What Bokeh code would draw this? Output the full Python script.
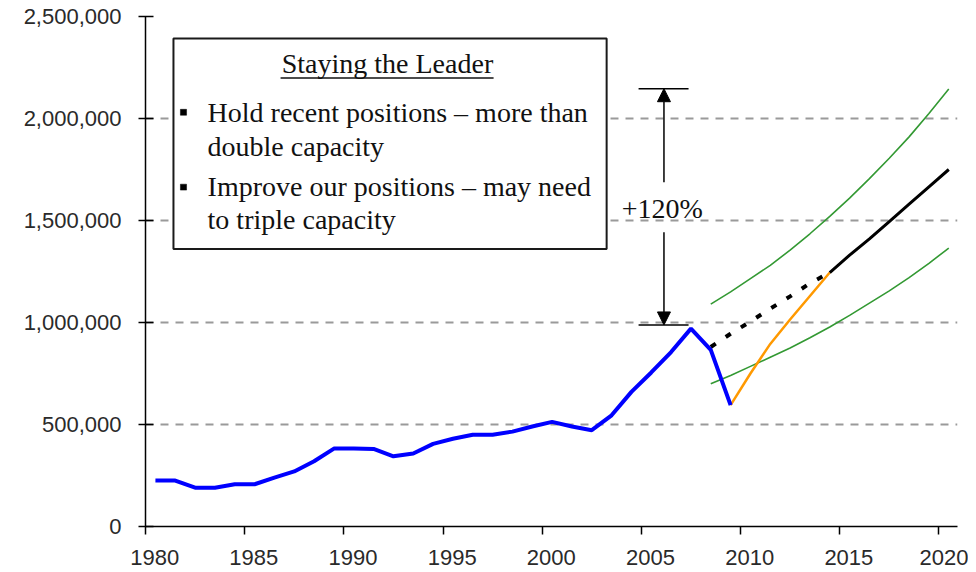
from bokeh.plotting import figure
from bokeh.models import (Range1d, NumeralTickFormatter, FixedTicker, BoxAnnotation,
                          Label, Arrow, NormalHead)
from bokeh.embed import file_html
from bokeh.resources import INLINE

# ---------------- data ----------------
mid_year = 0.5  # annual values are plotted at mid-year

hist_years = list(range(1980, 2010))
hist_values = [226000, 225000, 190000, 190000, 207000, 207000, 240000, 270000, 320000, 382000,
               382000, 380000, 344000, 358000, 405000, 430000, 450000, 450000, 465000, 490000,
               513000, 490000, 472000, 545000, 660000, 755000, 855000, 970000, 866000, 595000]

recovery_years = list(range(2009, 2015))
recovery_values = [595000, 750000, 895000, 1015000, 1130000, 1245000]

trend_years = list(range(2014, 2021))
trend_values = [1245000, 1330000, 1410000, 1495000, 1580000, 1665000, 1750000]

hold_years = list(range(2008, 2015))
hold_values = [880000, 945000, 1005000, 1068000, 1128000, 1192000, 1245000]

band_years = list(range(2008, 2021))
band_upper = [1090000, 1150000, 1215000, 1280000, 1355000, 1435000, 1520000, 1610000,
              1705000, 1805000, 1910000, 2025000, 2145000]
band_lower = [700000, 740000, 785000, 830000, 875000, 925000, 978000, 1035000,
              1095000, 1155000, 1220000, 1290000, 1365000]

x_ticks = [1980, 1985, 1990, 1995, 2000, 2005, 2010, 2015, 2020]
y_ticks = [0, 500000, 1000000, 1500000, 2000000, 2500000]

gap_low = 988000
gap_high = 2146000
gap_label = "+120%"

box_title = "Staying the Leader"
box_lines = ["Hold recent positions \u2013 more than", "double capacity",
             "Improve our positions \u2013 may need", "to triple capacity"]

# ---------------- figure ----------------
p = figure(width=968, height=572, output_backend="svg", toolbar_location=None,
           x_range=Range1d(1980, 2020.94), y_range=Range1d(0, 2500000),
           min_border_left=145, min_border_right=11, min_border_top=16, min_border_bottom=45)
p.outline_line_color = None
p.background_fill_color = "white"

p.xgrid.grid_line_color = None
p.ygrid.grid_line_color = "#9a9a9a"
p.ygrid.grid_line_width = 2
p.ygrid.grid_line_dash = "8 7"

for ax in (p.xaxis[0], p.yaxis[0]):
    ax.axis_line_color = "black"
    ax.axis_line_width = 1.5
    ax.major_tick_line_color = "black"
    ax.major_tick_line_width = 1.5
    ax.minor_tick_line_color = None
    ax.major_label_text_font = "Liberation Sans"
    ax.major_label_text_font_size = "22px"
    ax.major_label_text_color = "#2a2a2a"

p.xaxis[0].ticker = FixedTicker(ticks=x_ticks)
p.xaxis[0].major_label_overrides = {t: "\u00a0\u00a0\u00a0" + str(t) for t in x_ticks}
p.xaxis[0].major_tick_in = 0
p.xaxis[0].major_tick_out = 8
p.xaxis[0].major_label_standoff = 10

p.yaxis[0].ticker = FixedTicker(ticks=y_ticks)
p.yaxis[0].formatter = NumeralTickFormatter(format="0,0")
p.yaxis[0].major_tick_in = 8
p.yaxis[0].major_tick_out = 7
p.yaxis[0].major_label_standoff = 17


def mx(years):
    return [y + mid_year for y in years]


p.line(mx(band_years), band_upper, line_color="#339933", line_width=1.6)
p.line(mx(band_years), band_lower, line_color="#339933", line_width=1.6)
p.line(mx(hold_years), hold_values, line_color="black", line_width=4, line_dash="6 12")
p.line(mx(recovery_years), recovery_values, line_color="#ff9900", line_width=2.5)
p.line(mx(trend_years), trend_values, line_color="black", line_width=3)
p.line(mx(hist_years), hist_values, line_color="#0000ff", line_width=4)

# ---------------- +120% annotation ----------------
arrow_x = 2006.14
bar_l, bar_r = 2004.86, 2007.38
p.add_layout(Arrow(x_start=bar_l, y_start=gap_high, x_end=bar_r, y_end=gap_high,
                   start=None, end=None, line_color="black", line_width=1.5))
p.add_layout(Arrow(x_start=bar_l, y_start=gap_low, x_end=bar_r, y_end=gap_low,
                   start=None, end=None, line_color="black", line_width=1.5))
p.add_layout(Arrow(x_start=arrow_x, y_start=1688000, x_end=arrow_x, y_end=gap_high,
                   line_color="black", line_width=1.5,
                   end=NormalHead(size=13, fill_color="black", line_color="black")))
p.add_layout(Arrow(x_start=arrow_x, y_start=1443000, x_end=arrow_x, y_end=gap_low,
                   line_color="black", line_width=1.5,
                   end=NormalHead(size=13, fill_color="black", line_color="black")))
p.add_layout(Label(x=2006.06, y=1560000, text=gap_label, text_align="center",
                   text_baseline="middle", text_font="Liberation Serif",
                   text_font_size="28px", text_color="#111111"))

# ---------------- text box ----------------
p.add_layout(BoxAnnotation(left=1981.41, right=2003.25, top=2392000, bottom=1360000,
                           fill_color="white", fill_alpha=1.0,
                           line_color="#1a1a1a", line_alpha=1.0, line_width=2,
                           level="annotation"))
p.add_layout(Label(x=1992.2, y=2270000, text=box_title, text_align="center",
                   text_baseline="middle", text_font="Liberation Serif",
                   text_font_size="28px", text_color="#111111"))
p.add_layout(Arrow(x_start=1986.81, y_start=2199000, x_end=1997.55, y_end=2199000,
                   start=None, end=None, line_color="#111111", line_width=1.5))

line_y = [2028000, 1864000, 1668000, 1507000]
for txt, yy in zip(box_lines, line_y):
    p.add_layout(Label(x=1983.13, y=yy, text=txt, text_align="left",
                       text_baseline="middle", text_font="Liberation Serif",
                       text_font_size="28px", text_color="#111111"))

for top, bot in [(2045000, 2016000), (1678000, 1649000)]:
    p.add_layout(BoxAnnotation(left=1981.76, right=1982.07, top=top, bottom=bot,
                               fill_color="black", fill_alpha=1.0,
                               line_color="black", line_alpha=1.0, line_width=0.5))

open("out.html", "w").write(file_html(p, INLINE))
